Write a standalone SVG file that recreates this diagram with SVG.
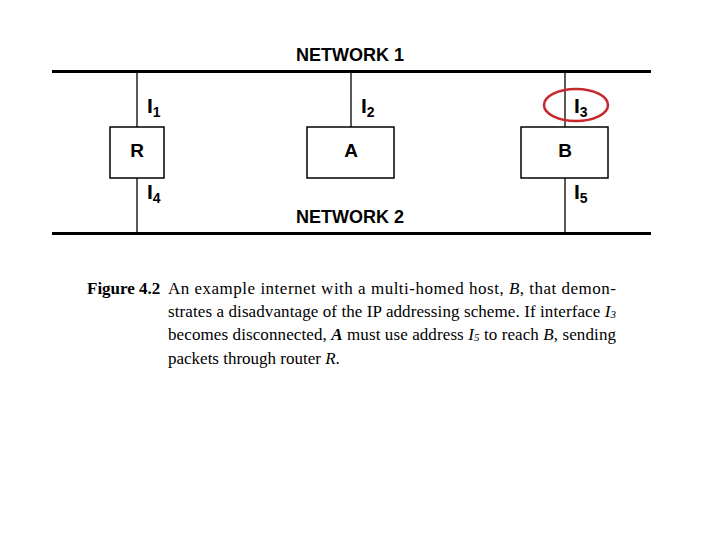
<svg xmlns="http://www.w3.org/2000/svg" width="720" height="540" viewBox="0 0 720 540">
<style>
.net{stroke:#000;stroke-width:3;fill:none}
.wire{stroke:#000;stroke-width:1.3;fill:none}
.box{fill:#fff;stroke:#000;stroke-width:1.5}
.lbl{font-family:"Liberation Sans",Arial,sans-serif;font-weight:bold;fill:#000}
.cap{font-family:"Liberation Serif","Times New Roman",serif;font-size:17px;fill:#000}
</style>
<rect width="720" height="540" fill="#fff"/>
<g id="connectors">
<line class="net" x1="52" y1="71.5" x2="651" y2="71.5"/>
<line class="net" x1="52" y1="233.5" x2="651" y2="233.5"/>
<line class="wire" x1="137" y1="72" x2="137" y2="127"/>
<line class="wire" x1="137" y1="178" x2="137" y2="233"/>
<line class="wire" x1="351" y1="72" x2="351" y2="127"/>
<line class="wire" x1="565" y1="72" x2="565" y2="127"/>
<line class="wire" x1="565" y1="178" x2="565" y2="233"/>
</g>
<g id="network1"><text class="lbl" x="296" y="61" font-size="18">NETWORK 1</text></g>
<g id="network2"><text class="lbl" x="296" y="223" font-size="18">NETWORK 2</text></g>
<g id="R"><rect class="box" x="110" y="127" width="54" height="51"/><text class="lbl" x="137" y="157" font-size="19" text-anchor="middle">R</text></g>
<g id="A"><rect class="box" x="307" y="127" width="87" height="51"/><text class="lbl" x="351" y="157" font-size="19" text-anchor="middle">A</text></g>
<g id="B"><rect class="box" x="521" y="127" width="87" height="51"/><text class="lbl" x="565" y="157" font-size="19" text-anchor="middle">B</text></g>
<g id="labels">
<text class="lbl" x="147" y="113" font-size="21">I<tspan font-size="14" dy="4">1</tspan></text>
<text class="lbl" x="361" y="113" font-size="21">I<tspan font-size="14" dy="4">2</tspan></text>
<text class="lbl" x="574" y="113" font-size="21">I<tspan font-size="14" dy="4">3</tspan></text>
<text class="lbl" x="147" y="199" font-size="21">I<tspan font-size="14" dy="4">4</tspan></text>
<text class="lbl" x="574" y="199" font-size="21">I<tspan font-size="14" dy="4">5</tspan></text>
</g>
<g id="highlight"><ellipse cx="576" cy="105" rx="32" ry="16" fill="none" stroke="#c8282c" stroke-width="2.5"/></g>
<g id="caption">
<text class="cap" x="87" y="294" font-weight="bold">Figure 4.2</text>
<text class="cap" x="168" y="294" textLength="448" lengthAdjust="spacing">An example internet with a multi-homed host, <tspan font-style="italic">B</tspan>, that demon-</text>
<text class="cap" x="168" y="317" textLength="448" lengthAdjust="spacing">strates a disadvantage of the IP addressing scheme.  If interface <tspan font-style="italic">I<tspan font-size="11" dy="1">3</tspan></tspan></text>
<text class="cap" x="168" y="340" textLength="448" lengthAdjust="spacing">becomes disconnected, <tspan font-style="italic" font-weight="bold">A</tspan> must use address <tspan font-style="italic">I<tspan font-size="11" dy="1">5</tspan></tspan><tspan dy="-1"> to reach </tspan><tspan font-style="italic">B</tspan>, sending</text>
<text class="cap" x="168" y="364">packets through router <tspan font-style="italic">R</tspan>.</text>
</g>
</svg>
